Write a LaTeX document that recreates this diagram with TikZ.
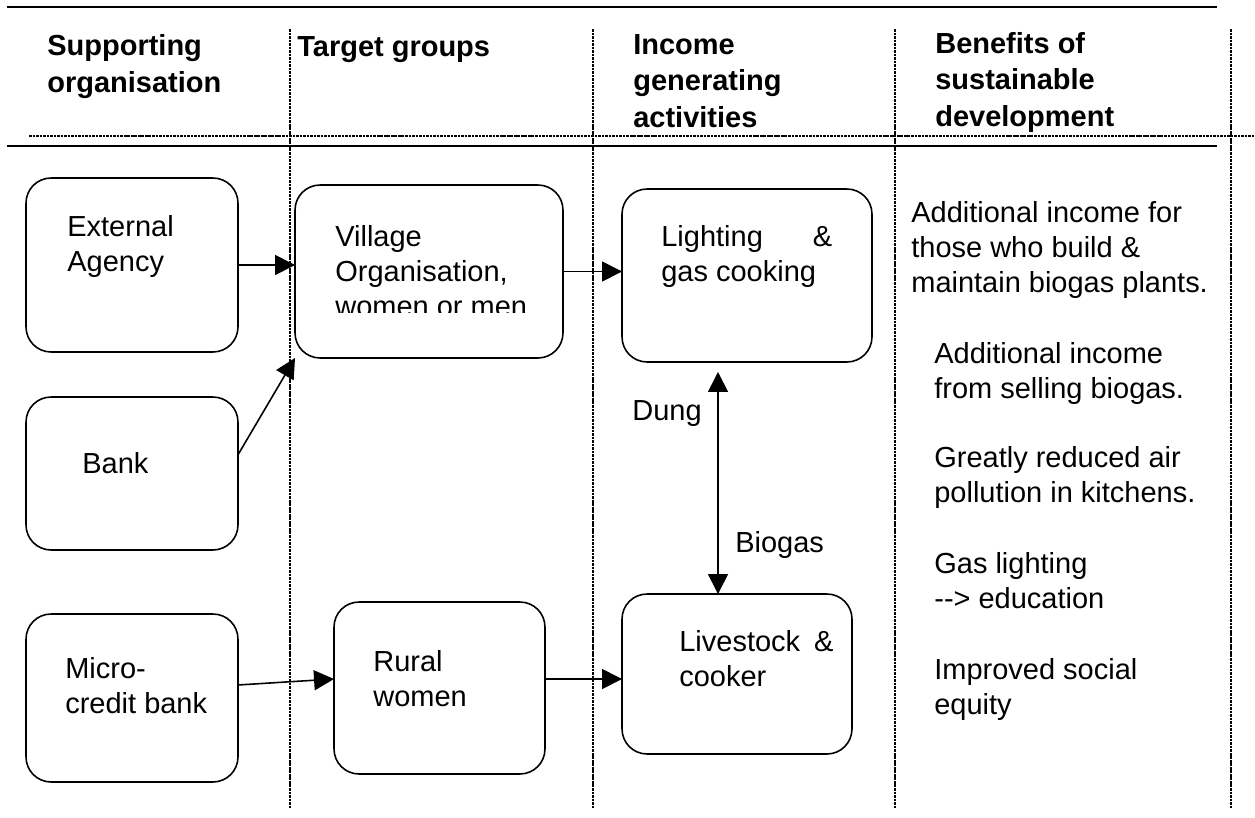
\documentclass[tikz,border=0pt]{standalone}
\usepackage{fontspec}
\setmainfont{Liberation Sans}
\usetikzlibrary{arrows.meta}

\begin{document}
\begin{tikzpicture}[x=0.02cm, y=-0.02cm,
    box/.style={draw, line width=0.9pt, rounded corners=5mm, inner sep=0pt, outer sep=0pt},
    txt/.style={inner sep=0pt, anchor=base west, align=left, font=\fontsize{16.5}{19.9}\selectfont},
    head/.style={txt, font=\fontsize{16.5}{20.5}\selectfont\bfseries},
    arr/.style={-{Triangle[length=4mm,width=4mm]}, line width=0.9pt},
    twoway/.style={{Triangle[length=4mm,width=4mm]}-{Triangle[length=4mm,width=4mm]}, line width=0.9pt},
    rule/.style={line width=1.1pt},
    sep/.style={line width=1pt, dash pattern=on 1.5pt off 0.5pt}]
    \useasboundingbox (0,0) rectangle (1255,818);

    % table frame
    \draw[rule] (7,7) -- (1217,7);
    \draw[rule] (7,146) -- (1217,146);
    \draw[sep] (29,136) -- (1255,136);
    \foreach \x in {290,593,895,1231}{\draw[sep] (\x,29) -- (\x,808);}

    % column heads (placed at the baseline of their last line)
    \node[head] (hsup) at (47,92) {Supporting\\organisation};
    \node[head] (htar) at (297,56) {Target groups};
    \node[head] (hinc) at (633,127) {Income\\generating\\activities};
    \node[head] (hben) at (935,126) {Benefits of\\sustainable\\development};

    % boxes
    \node[box, minimum width=4.24cm, minimum height=3.48cm] (ext) at (132,265) {};
    \node[box, minimum width=4.24cm, minimum height=3.06cm] (bank) at (132,473.5) {};
    \node[box, minimum width=4.24cm, minimum height=3.36cm] (micro) at (132,698) {};
    \node[box, minimum width=5.36cm, minimum height=3.46cm] (village) at (429,271.5) {};
    \node[box, minimum width=4.22cm, minimum height=3.44cm] (rural) at (439.5,688) {};
    \node[box, minimum width=5.00cm, minimum height=3.46cm] (light) at (747,275.5) {};
    \node[box, minimum width=4.60cm, minimum height=3.20cm] (stock) at (737,674) {};

    \node[txt] (ext text) at (67,271) {External\\Agency};
    \node[txt] (bank text) at (82,473) {Bank};
    \node[txt] (micro text) at (65,713) {Micro-\\credit bank};
    \begin{scope}
        \clip (295,185) rectangle (563,312);
        \node[txt] (village text) at (335,316) {Village\\Organisation,\\women or men};
    \end{scope}
    \node[txt] (rural text) at (373,706) {Rural\\women};
    \node[txt] (light text) at (661,281) {Lighting\hspace{1cm}\&\\gas cooking};
    \node[txt] (stock text) at (679,686) {Livestock\hspace{0.28cm}\&\\cooker};

    % flows
    \draw[arr] (ext.east) -- (ext.east -| village.west);
    \draw[arr] (bank.10) -- (village.south west);
    \draw[arr] (village.east) -- (village.east -| light.west);
    \draw[arr] (micro.7) -- ([yshift=0.18cm]rural.west);
    \coordinate (rural out) at ([yshift=0.18cm]rural.east);
    \draw[arr] (rural out) -- (rural out -| stock.west);
    \coordinate (gas) at ([xshift=-0.38cm]stock.north);
    \draw[twoway, shorten >=0.2cm] (gas) -- (gas |- light.south);
    \node[txt] (dung) at (632,420) {Dung};
    \node[txt] (biogas) at (735,552) {Biogas};

    % benefits
    \node[txt] (b1) at (911,292) {Additional income for\\those who build \&\\maintain biogas plants.};
    \node[txt] (b2) at (934,398) {Additional income\\from selling biogas.};
    \node[txt] (b3) at (934,502) {Greatly reduced air\\pollution in kitchens.};
    \node[txt] (b4) at (934,608) {Gas lighting\\-{}-{}> education};
    \node[txt] (b5) at (934,714) {Improved social\\equity};
\end{tikzpicture}
\end{document}
